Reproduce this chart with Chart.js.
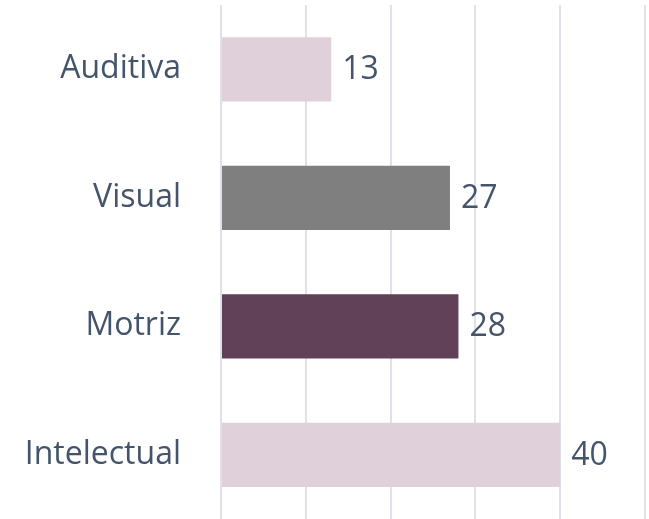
<!DOCTYPE html>
<html lang="es">
<head>
  <meta charset="UTF-8">
  <script src="https://cdn.jsdelivr.net/npm/chart.js"></script>
  <title>Discapacidad</title>
  <style>
    html,body{margin:0; padding:0; background:#fff;}
    #wrap{width:649px; height:519px;}
  </style>
</head>
<body>
  <div id="wrap">
    <canvas id="myChart"></canvas>
  </div>
  <script>
    // datos
    const labelArr = ['Auditiva', 'Visual', 'Motriz', 'Intelectual'];
    const dataArr = [13, 27, 28, 40];
    const colorArr = ['#dfd0da', '#7f7f7f', '#614158', '#dfd0da'];
    const xTicks = [0, 10, 20, 30, 40, 50];

    const textColor = '#44546a';
    const fontFam = '"Open Sans", "Liberation Sans", sans-serif';

    // etiquetas de valor a la derecha de cada barra
    const valueLabels = {
      id: 'valueLabels',
      afterDatasetsDraw(chart){
        const ctx = chart.ctx;
        const meta = chart.getDatasetMeta(0);
        ctx.save();
        ctx.font = '32px ' + fontFam;
        ctx.fillStyle = textColor;
        ctx.textAlign = 'left';
        ctx.textBaseline = 'middle';
        meta.data.forEach((bar, i) => {
          ctx.fillText(String(dataArr[i]), bar.x + 11, bar.y + 1);
        });
        ctx.restore();
      }
    };

    new Chart(document.getElementById('myChart'), {
      type: 'bar',
      data: {
        labels: labelArr,
        datasets: [{
          data: dataArr,
          backgroundColor: colorArr,
          borderWidth: 0,
          categoryPercentage: 1.0,
          barPercentage: 0.5
        }]
      },
      options: {
        indexAxis: 'y',
        responsive: true,
        maintainAspectRatio: false,
        animation: false,
        layout: { padding: { top: 5, right: 4, bottom: 0, left: 0 } },
        plugins: {
          legend: { display: false },
          tooltip: { enabled: false }
        },
        scales: {
          x: {
            min: xTicks[0],
            max: xTicks[xTicks.length - 1],
            afterBuildTicks(scale){
              scale.ticks = xTicks.map(v => ({ value: v }));
            },
            ticks: { display: false },
            grid: { color: '#dde2ea', lineWidth: 2, drawTicks: false },
            border: { display: false }
          },
          y: {
            afterFit(scale){
              scale.width = 221;
              scale.paddingTop = 0;
              scale.paddingBottom = 0;
            },
            grid: { display: false, drawTicks: false },
            border: { display: false },
            ticks: {
              color: textColor,
              padding: 40,
              font: { family: fontFam, size: 32 }
            }
          }
        }
      },
      plugins: [valueLabels]
    });
  </script>
</body>
</html>
